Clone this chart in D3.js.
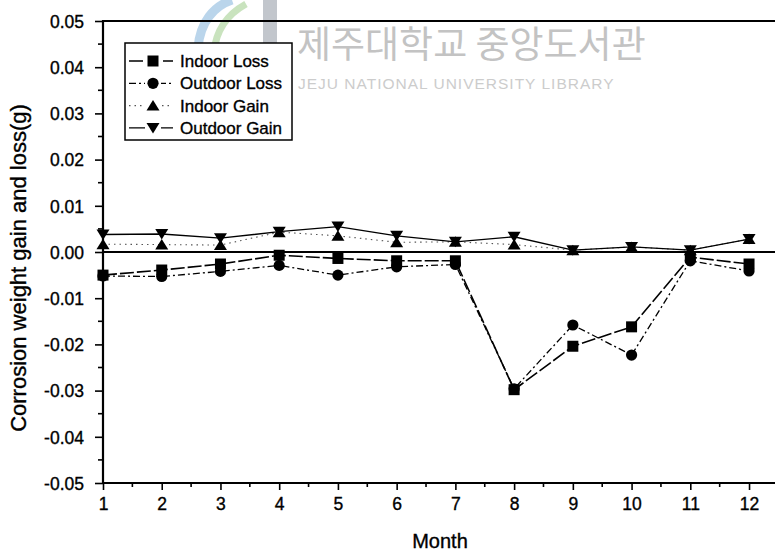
<!DOCTYPE html>
<html>
<head>
<meta charset="utf-8">
<script src="https://cdn.jsdelivr.net/npm/d3@7"></script>
<style>
  html, body { margin: 0; padding: 0; background: #fff; }
  svg { display: block; }
  text { font-family: "Liberation Sans", Arial, sans-serif; fill: #000; }
  .ink { stroke: #000; stroke-width: 0.35px; }
</style>
</head>
<body>
<svg id="chart" width="775" height="553"></svg>
<script>
// Monthly corrosion weight change (g)
const months = [1, 2, 3, 4, 5, 6, 7, 8, 9, 10, 11, 12];
const indoorLoss  = [-0.0050, -0.0039, -0.0026, -0.0007, -0.0014, -0.0019, -0.0019, -0.0298, -0.0204, -0.0162, -0.0011, -0.0026];
const outdoorLoss = [-0.0052, -0.0053, -0.0042, -0.0029, -0.0050, -0.0032, -0.0027, -0.0296, -0.0158, -0.0223, -0.0019, -0.0041];
const indoorGain  = [0.0017, 0.0016, 0.0015, 0.0043, 0.0035, 0.0021, 0.0022, 0.0016, 0.0004, 0.0011, 0.0004, 0.0028];
const outdoorGain = [0.0038, 0.0039, 0.0030, 0.0044, 0.0055, 0.0035, 0.0022, 0.0033, 0.0004, 0.0011, 0.0004, 0.0028];

const yTicks = [0.05, 0.04, 0.03, 0.02, 0.01, 0.00, -0.01, -0.02, -0.03, -0.04, -0.05];
const seriesNames = ["Indoor Loss", "Outdoor Loss", "Indoor Gain", "Outdoor Gain"];

(function () {
const svg = d3.select("#chart");
const W = 775;
const plotLeft = 103, plotTop = 21, plotBottom = 483;

const x = d3.scaleLinear().domain([1, 12.5]).range([plotLeft, 778.4]);
const y = d3.scaleLinear().domain([-0.05, 0.05]).range([plotBottom, plotTop]);

const fmt = d3.formatLocale({ decimal: ".", thousands: ",", grouping: [3], currency: ["", ""], minus: "-" });

// library watermark behind the plot
const wm = svg.append("g");
wm.append("path")
  .attr("d", "M198,48 C200,22 214,6 232,0")
  .attr("fill", "none").attr("stroke", "#a9cbe6").attr("stroke-width", 9).attr("opacity", 0.8);
wm.append("path")
  .attr("d", "M214,52 C216,30 228,14 246,4")
  .attr("fill", "none").attr("stroke", "#bcdcae").attr("stroke-width", 7).attr("opacity", 0.8);
wm.append("path")
  .attr("d", "M270,0 L270,52 C270,62 262,66 252,64")
  .attr("fill", "none").attr("stroke", "#c2c6cc").attr("stroke-width", 14);
wm.append("text")
  .attr("x", 297).attr("y", 58)
  .style("font-family", "'Noto Sans CJK KR', sans-serif")
  .style("font-size", "37px")
  .style("fill", "#c3c3c3")
  .text("제주대학교 중앙도서관");
wm.append("text")
  .attr("x", 298).attr("y", 89)
  .style("font-size", "15.5px")
  .style("fill", "#cccccc")
  .style("letter-spacing", "1px")
  .text("JEJU NATIONAL UNIVERSITY LIBRARY");

// axes
const yAxis = d3.axisLeft(y).tickValues(yTicks).tickSize(8).tickPadding(11)
  .tickFormat(fmt.format(".2f"));
const gy = svg.append("g").attr("transform", `translate(${plotLeft},0)`).call(yAxis);
gy.select(".domain").remove();
gy.selectAll("text").attr("class", "ink").style("font-size", "17.5px").attr("dy", "0.36em");
gy.selectAll("line").attr("stroke-width", 1.6);

const yMinor = d3.range(-0.045, 0.05, 0.01);
svg.append("g").selectAll("line").data(yMinor).join("line")
  .attr("x1", plotLeft - 5).attr("x2", plotLeft)
  .attr("y1", d => y(d)).attr("y2", d => y(d))
  .attr("stroke", "#000").attr("stroke-width", 1.6);

const xAxis = d3.axisBottom(x).tickValues(months).tickSize(7).tickPadding(8)
  .tickFormat(fmt.format("d"));
const gx = svg.append("g").attr("transform", `translate(0,${plotBottom})`).call(xAxis);
gx.select(".domain").remove();
gx.selectAll("text").attr("class", "ink").style("font-size", "17.5px");
gx.selectAll("line").attr("stroke-width", 1.6);

const xMinor = months.map(m => m + 0.5);
svg.append("g").selectAll("line").data(xMinor).join("line")
  .attr("x1", d => x(d)).attr("x2", d => x(d))
  .attr("y1", plotBottom).attr("y2", plotBottom + 4)
  .attr("stroke", "#000").attr("stroke-width", 1.6);

// frame and zero line
svg.append("line").attr("x1", plotLeft).attr("x2", W + 5).attr("y1", plotTop).attr("y2", plotTop)
  .attr("stroke", "#000").attr("stroke-width", 2);
svg.append("line").attr("x1", plotLeft).attr("x2", W + 5).attr("y1", plotBottom).attr("y2", plotBottom)
  .attr("stroke", "#000").attr("stroke-width", 2);
svg.append("line").attr("x1", plotLeft).attr("x2", plotLeft).attr("y1", plotTop - 1).attr("y2", plotBottom + 1)
  .attr("stroke", "#000").attr("stroke-width", 2.2);
svg.append("line").attr("x1", plotLeft).attr("x2", W + 5).attr("y1", y(0)).attr("y2", y(0))
  .attr("stroke", "#000").attr("stroke-width", 2);

// axis titles
svg.append("text")
  .attr("class", "ink")
  .attr("transform", `translate(26,268) rotate(-90)`)
  .attr("text-anchor", "middle")
  .style("font-size", "22px")
  .text("Corrosion weight gain and loss(g)");
svg.append("text")
  .attr("class", "ink")
  .attr("x", 440).attr("y", 548)
  .attr("text-anchor", "middle")
  .style("font-size", "20px")
  .text("Month");

// series styles
const styles = [
  { name: seriesNames[0], values: indoorLoss,  shape: "square", dash: "14,3",    width: 1.6, color: "#000" },
  { name: seriesNames[1], values: outdoorLoss, shape: "circle", dash: "7,3,2,3", width: 1.3, color: "#000" },
  { name: seriesNames[2], values: indoorGain,  shape: "up",     dash: "1.5,4",   width: 1.1, color: "#555" },
  { name: seriesNames[3], values: outdoorGain, shape: "down",   dash: null,      width: 1.4, color: "#000" }
];

function markerPath(shape) {
  if (shape === "square") return "M-5.5,-5.5H5.5V5.5H-5.5Z";
  if (shape === "circle") return "M5.6,0A5.6,5.6 0 1,1 -5.6,0A5.6,5.6 0 1,1 5.6,0Z";
  if (shape === "up") return "M0,-5.5L6.5,5L-6.5,5Z";
  return "M0,5.5L6.5,-5L-6.5,-5Z";
}

const line = d3.line().x((d, i) => x(months[i])).y(d => y(d));

const plot = svg.append("g");
styles.forEach(s => {
  plot.append("path")
    .attr("d", line(s.values))
    .attr("fill", "none")
    .attr("stroke", s.color)
    .attr("stroke-width", s.width)
    .attr("stroke-dasharray", s.dash);
});

// markers: gains first, then losses with squares on top
[2, 3, 1, 0].forEach(k => {
  const s = styles[k];
  plot.append("g").selectAll("path").data(s.values).join("path")
    .attr("transform", (d, i) => `translate(${x(months[i])},${y(d)})`)
    .attr("d", markerPath(s.shape))
    .attr("fill", "#000");
});

// legend
const lg = svg.append("g").attr("transform", "translate(125,43)");
lg.append("rect").attr("x", 0).attr("y", 0).attr("width", 167).attr("height", 97)
  .attr("fill", "#fff").attr("stroke", "#000").attr("stroke-width", 1.5);
styles.forEach((s, i) => {
  const cy = 18 + i * 22.3;
  lg.append("line").attr("x1", 4).attr("x2", 48).attr("y1", cy).attr("y2", cy)
    .attr("stroke", s.color).attr("stroke-width", s.width)
    .attr("stroke-dasharray", s.dash);
  lg.append("rect").attr("x", 20).attr("y", cy - 8).attr("width", 16).attr("height", 16).attr("fill", "#fff");
  lg.append("path").attr("transform", `translate(28,${cy})`)
    .attr("d", markerPath(s.shape)).attr("fill", "#000");
  lg.append("text").attr("class", "ink").attr("x", 55).attr("y", cy).attr("dy", "0.36em")
    .style("font-size", "17px")
    .text(s.name);
});
})();
</script>
</body>
</html>
